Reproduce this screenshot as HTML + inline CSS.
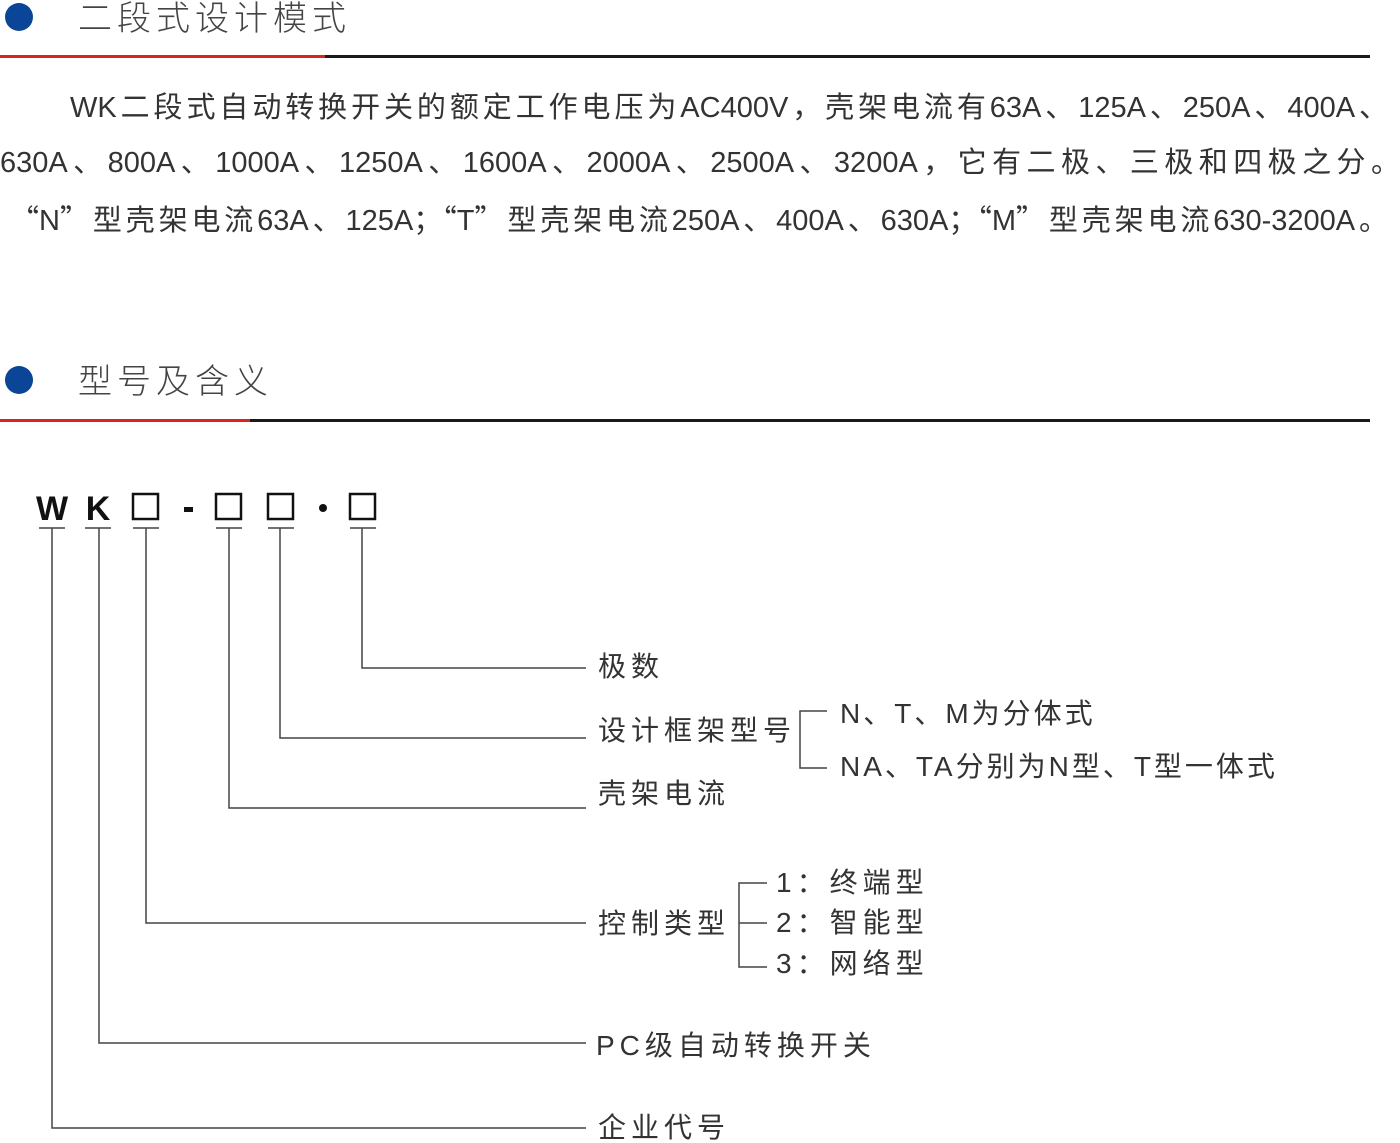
<!DOCTYPE html>
<html><head><meta charset="utf-8"><style>
body{margin:0;width:1400px;height:1141px;background:#fff;position:relative;overflow:hidden;font-family:"Liberation Sans","Noto Sans CJK SC",sans-serif;color:#333}
.a{position:absolute;white-space:nowrap;line-height:1}
.dot{position:absolute;width:28px;height:28px;border-radius:50%;background:#0b4597}
.h{font-weight:300;font-size:34px;letter-spacing:5px;color:#444}
.p{font-size:29px;text-align:justify;text-align-last:justify;color:#333}
.l{font-size:28px;letter-spacing:5px;color:#333}
.c{font-family:"Noto Sans CJK SC",sans-serif}
</style></head><body>
<div class="dot" style="left:5px;top:3px"></div>
<div class="a h" style="left:78px;top:2px">二段式设计模式</div>
<div class="a" style="left:0;top:55px;width:325px;height:3px;background:#d9261c"></div>
<div class="a" style="left:325px;top:55px;width:1045px;height:3px;background:#1a1a1a"></div>

<div class="a p" style="left:70px;top:94px;width:1318px">WK二段式自动转换开关的额定工作电压为AC400V，壳架电流有63A、125A、250A、400A、</div>
<div class="a p" style="left:0px;top:149px;width:1400px">630A、800A、1000A、1250A、1600A、2000A、2500A、3200A，它有二极、三极和四极之分。</div>
<div class="a p" style="left:10px;top:204px;width:1378px"><span class="c">“</span>N<span class="c">”</span>型壳架电流63A、125A<span class="c">；</span><span class="c">“</span>T<span class="c">”</span>型壳架电流250A、400A、630A<span class="c">；</span><span class="c">“</span>M<span class="c">”</span>型壳架电流630-3200A。</div>

<div class="dot" style="left:5px;top:366px"></div>
<div class="a h" style="left:78px;top:365px">型号及含义</div>
<div class="a" style="left:0;top:419px;width:250px;height:3px;background:#d9261c"></div>
<div class="a" style="left:250px;top:419px;width:1120px;height:3px;background:#1a1a1a"></div>

<svg class="a" style="left:0;top:0" width="1400" height="1141">
<g font-family="Liberation Sans, sans-serif" font-weight="bold" font-size="34" fill="#111" text-anchor="middle">
<text x="52" y="520">W</text><text x="98" y="520">K</text>
</g>
<g fill="none" stroke="#111" stroke-width="2.5">
<rect x="133" y="494" width="25" height="25"/><rect x="216" y="494" width="25" height="25"/>
<rect x="268" y="494" width="25" height="25"/><rect x="350" y="494" width="25" height="25"/>
</g>
<rect x="184" y="507" width="9" height="5" fill="#111"/>
<circle cx="323" cy="508" r="4" fill="#111"/>
<g stroke="#444" stroke-width="1.5" fill="none">
<path d="M39 528h26M85 528h26M133 528h26M216 528h26M268 528h26M350 528h26"/>
<path d="M362 528V668H586M280 528V738H586M229 528V808H586M146 528V923H586M99 528V1043H586M52 528V1128H586"/>
<path d="M827 711H800V768H827"/>
<path d="M767 883H739V967H767M739 923H767"/>
</g>
</svg>
<div class="a l" style="left:598px;top:653px">极数</div>
<div class="a l" style="left:598px;top:717px">设计框架型号</div>
<div class="a l" style="left:598px;top:780px">壳架电流</div>
<div class="a l" style="left:598px;top:910px">控制类型</div>
<div class="a l" style="left:596px;top:1032px">PC级自动转换开关</div>
<div class="a l" style="left:598px;top:1114px">企业代号</div>
<div class="a l" style="left:840px;top:700px;letter-spacing:3px">N、T、M为分体式</div>
<div class="a l" style="left:840px;top:753px;letter-spacing:3px">NA、TA分别为N型、T型一体式</div>
<div class="a l" style="left:776px;top:869px">1：终端型</div>
<div class="a l" style="left:776px;top:909px">2：智能型</div>
<div class="a l" style="left:776px;top:950px">3：网络型</div>
</body></html>
